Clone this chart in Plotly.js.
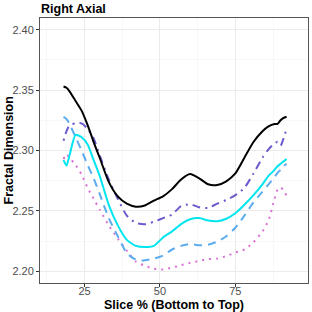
<!DOCTYPE html>
<html>
<head>
<meta charset="utf-8">
<script src="https://cdn.plot.ly/plotly-3.0.1.min.js"></script>
<style>html,body{margin:0;padding:0;background:#fff}#chart{width:312px;height:312px}</style>
</head>
<body>
<div id="chart"></div>
<script>
const slices = [18,19,20,22,24,26,28,30,33,36,39,42,45,48,51,54,57,60,63,66,69,72,75,78,81,84,86,88,89,90,91,92];
const blackVals  = [2.353,2.352,2.349,2.341,2.333,2.321,2.307,2.294,2.274,2.262,2.256,2.2535,2.2545,2.2585,2.262,2.268,2.276,2.2805,2.277,2.272,2.2715,2.2745,2.281,2.294,2.307,2.316,2.320,2.322,2.322,2.325,2.327,2.328];
const purpleVals = [2.308,2.316,2.321,2.3225,2.3225,2.318,2.310,2.296,2.276,2.260,2.246,2.240,2.239,2.241,2.244,2.247,2.254,2.2555,2.253,2.2525,2.256,2.259,2.263,2.269,2.281,2.294,2.301,2.306,2.307,2.304,2.310,2.318];
const cyanVals   = [2.292,2.2875,2.296,2.313,2.311,2.305,2.292,2.279,2.255,2.238,2.226,2.221,2.220,2.221,2.228,2.233,2.239,2.243,2.244,2.242,2.2415,2.2435,2.248,2.255,2.263,2.272,2.279,2.284,2.287,2.289,2.291,2.293];
const blueVals   = [2.328,2.326,2.322,2.311,2.300,2.288,2.277,2.264,2.244,2.229,2.215,2.2095,2.209,2.2105,2.213,2.218,2.221,2.2225,2.2215,2.222,2.2245,2.229,2.236,2.246,2.257,2.266,2.272,2.278,2.2815,2.284,2.287,2.289];
const pinkVals   = [2.293,2.297,2.294,2.288,2.280,2.269,2.260,2.251,2.238,2.227,2.217,2.208,2.2045,2.202,2.2015,2.203,2.205,2.207,2.2085,2.210,2.2105,2.2125,2.2155,2.218,2.224,2.233,2.242,2.260,2.2675,2.2695,2.267,2.2625];
const xTicks = [25,50,75];
const yTicks = [2.20,2.25,2.30,2.35,2.40];

function tr(y, color, dash) {
  return {x: slices, y: y, type: 'scatter', mode: 'lines',
    line: {color: color, width: 2, dash: dash, shape: 'spline', smoothing: 0.6},
    hoverinfo: 'skip', showlegend: false};
}
const data = [
  tr(pinkVals, '#DA70D6', '2px,5px'),
  tr(blueVals, '#5CACEE', '8px,6px'),
  tr(cyanVals, '#00E5EE', 'solid'),
  tr(purpleVals, '#6A5ACD', '2px,5px,8px,5px'),
  tr(blackVals, '#000000', 'solid')
];
const font = 'Liberation Sans, Arial, sans-serif';
const layout = {
  width: 312, height: 312,
  margin: {l: 40, r: 4, t: 18, b: 29},
  paper_bgcolor: '#fff', plot_bgcolor: '#fff',
  font: {family: font},
  title: {text: '<b>Right Axial</b>', x: 41/312, xanchor: 'left', y: 1 - 9/312, yanchor: 'middle',
          font: {size: 12.5, color: '#000', family: font}},
  xaxis: {range: [10.2, 99.1], tickvals: xTicks, ticktext: xTicks.map(String),
    showgrid: true, gridcolor: '#ebebeb', gridwidth: 1,
    minor: {dtick: 12.5, tick0: 0, showgrid: true, gridcolor: '#f4f4f4', gridwidth: 0.6},
    zeroline: false, showline: true, mirror: true, linecolor: '#555', linewidth: 1,
    ticks: 'outside', ticklen: 3, tickcolor: '#333', tickwidth: 1, ticklabelstandoff: -5,
    tickfont: {size: 11, color: '#4d4d4d'}},
  yaxis: {range: [2.19025, 2.40975], tickvals: yTicks, ticktext: yTicks.map(v => v.toFixed(2)),
    showgrid: true, gridcolor: '#ebebeb', gridwidth: 1,
    minor: {dtick: 0.025, tick0: 2.2, showgrid: true, gridcolor: '#f4f4f4', gridwidth: 0.6},
    zeroline: false, showline: true, mirror: true, linecolor: '#555', linewidth: 1,
    ticks: 'outside', ticklen: 3, tickcolor: '#333', tickwidth: 1,
    tickfont: {size: 11, color: '#4d4d4d'}},
  annotations: [
    {text: '<b>Slice % (Bottom to Top)</b>', xref: 'paper', yref: 'paper', x: 0.5, y: 0,
     xanchor: 'center', yanchor: 'middle', yshift: -21.5, showarrow: false,
     font: {size: 12.5, color: '#000', family: font}},
    {text: '<b>Fractal Dimension</b>', xref: 'paper', yref: 'paper', x: 0, y: 0.5,
     xanchor: 'center', yanchor: 'middle', xshift: -32, textangle: -90, showarrow: false,
     font: {size: 12.5, color: '#000', family: font}}
  ]
};
Plotly.newPlot('chart', data, layout, {displayModeBar: false, staticPlot: true});
</script>
</body>
</html>
